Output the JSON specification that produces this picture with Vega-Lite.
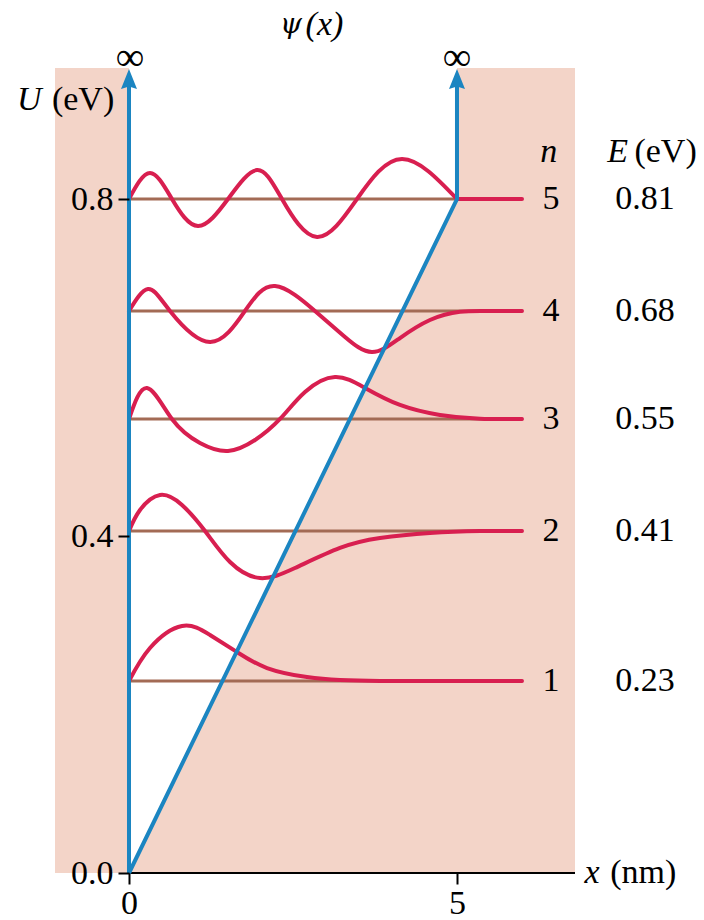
{
  "$schema": "https://vega.github.io/schema/vega-lite/v6.json",
  "width": 520,
  "height": 805,
  "autosize": {"type": "none"},
  "padding": {"left": 55, "top": 68, "right": 129, "bottom": 47},
  "background": "white",
  "config": {"view": {"stroke": null}, "axis": {"grid": false}},
  "datasets": {
    "bg": [{"x0": -1.128, "x1": 6.799, "y0": 0, "y1": 0.9555}],
    "well": [{"x": 0, "lo": 0, "hi": 0.9555}, {"x": 5, "lo": 0.8, "hi": 0.9555}],
    "axisline": [{"xa": 0, "xb": 6.799, "y": 0}],
    "levels": [
      {"n": 1, "E": 0.2279, "xs": 0, "xe": 6},
      {"n": 2, "E": 0.4059, "xs": 0, "xe": 6},
      {"n": 3, "E": 0.5389, "xs": 0, "xe": 6},
      {"n": 4, "E": 0.6671, "xs": 0, "xe": 6},
      {"n": 5, "E": 0.8, "xs": 0, "xe": 5}
    ],
    "waves": [
      {"s": "1", "x": 0, "y": 0.2279}, {"s": "1", "x": 0.32, "y": 0.2671}, {"s": "1", "x": 0.808, "y": 0.2932},
      {"s": "1", "x": 1.235, "y": 0.2825}, {"s": "1", "x": 1.646, "y": 0.2623}, {"s": "1", "x": 2.104, "y": 0.2433},
      {"s": "1", "x": 2.713, "y": 0.2326}, {"s": "1", "x": 3.216, "y": 0.2291}, {"s": "1", "x": 3.826, "y": 0.2280},
      {"s": "1", "x": 4.9, "y": 0.2279}, {"s": "1", "x": 5.991, "y": 0.2279},
      {"s": "2", "x": 0, "y": 0.4059}, {"s": "2", "x": 0.168, "y": 0.4309}, {"s": "2", "x": 0.473, "y": 0.4487},
      {"s": "2", "x": 0.808, "y": 0.4368}, {"s": "2", "x": 1.159, "y": 0.4059}, {"s": "2", "x": 1.54, "y": 0.3691},
      {"s": "2", "x": 1.997, "y": 0.3501}, {"s": "2", "x": 2.53, "y": 0.362}, {"s": "2", "x": 3.216, "y": 0.3858},
      {"s": "2", "x": 3.826, "y": 0.3976}, {"s": "2", "x": 4.588, "y": 0.4036}, {"s": "2", "x": 5.351, "y": 0.4058},
      {"s": "2", "x": 5.991, "y": 0.4059},
      {"s": "3", "x": 0, "y": 0.5389}, {"s": "3", "x": 0.275, "y": 0.5757}, {"s": "3", "x": 0.655, "y": 0.5389},
      {"s": "3", "x": 1.082, "y": 0.5104}, {"s": "3", "x": 1.509, "y": 0.5009}, {"s": "3", "x": 1.921, "y": 0.5139},
      {"s": "3", "x": 2.302, "y": 0.5389}, {"s": "3", "x": 2.683, "y": 0.5709}, {"s": "3", "x": 3.14, "y": 0.5887},
      {"s": "3", "x": 3.598, "y": 0.5757}, {"s": "3", "x": 4.131, "y": 0.5555}, {"s": "3", "x": 4.741, "y": 0.5436},
      {"s": "3", "x": 5.351, "y": 0.5391}, {"s": "3", "x": 5.991, "y": 0.5389},
      {"s": "4", "x": 0, "y": 0.6671}, {"s": "4", "x": 0.29, "y": 0.6932}, {"s": "4", "x": 0.625, "y": 0.6671},
      {"s": "4", "x": 1.235, "y": 0.6303}, {"s": "4", "x": 1.768, "y": 0.6671}, {"s": "4", "x": 2.226, "y": 0.6967},
      {"s": "4", "x": 2.835, "y": 0.6671}, {"s": "4", "x": 3.293, "y": 0.6362}, {"s": "4", "x": 3.704, "y": 0.6184},
      {"s": "4", "x": 4.131, "y": 0.635}, {"s": "4", "x": 4.588, "y": 0.6564}, {"s": "4", "x": 5.046, "y": 0.6662},
      {"s": "4", "x": 5.5, "y": 0.6671}, {"s": "4", "x": 5.991, "y": 0.6671},
      {"s": "5", "x": 0, "y": 0.8}, {"s": "5", "x": 0.32, "y": 0.8309}, {"s": "5", "x": 0.655, "y": 0.8},
      {"s": "5", "x": 1.052, "y": 0.768}, {"s": "5", "x": 1.509, "y": 0.8}, {"s": "5", "x": 1.951, "y": 0.8344},
      {"s": "5", "x": 2.332, "y": 0.8}, {"s": "5", "x": 2.866, "y": 0.7549}, {"s": "5", "x": 3.476, "y": 0.8},
      {"s": "5", "x": 4.162, "y": 0.8475}, {"s": "5", "x": 5.0, "y": 0.8},
      {"s": "5t", "x": 5.0, "y": 0.8}, {"s": "5t", "x": 5.991, "y": 0.8}
    ],
    "walls": [
      {"o": 1, "x": 0, "y": 0.9377}, {"o": 2, "x": 0, "y": 0}, {"o": 3, "x": 5, "y": 0.8}, {"o": 4, "x": 5, "y": 0.9377}
    ],
    "arrows": [{"x": 0, "y": 0.9424}, {"x": 5, "y": 0.9424}],
    "regular": [
      {"x": -0.7, "y": 0.9175, "t": "(eV)"},
      {"x": 7.84, "y": 0.0, "t": "(nm)"},
      {"x": 8.18, "y": 0.8558, "t": "(eV)"},
      {"x": 6.433, "y": 0.8, "t": "5"},
      {"x": 6.433, "y": 0.6671, "t": "4"},
      {"x": 6.433, "y": 0.5389, "t": "3"},
      {"x": 6.433, "y": 0.4059, "t": "2"},
      {"x": 6.433, "y": 0.2279, "t": "1"},
      {"x": 7.866, "y": 0.8, "t": "0.81"},
      {"x": 7.866, "y": 0.6671, "t": "0.68"},
      {"x": 7.866, "y": 0.5389, "t": "0.55"},
      {"x": 7.866, "y": 0.4059, "t": "0.41"},
      {"x": 7.866, "y": 0.2279, "t": "0.23"}
    ],
    "infinity": [
      {"x": 0.015, "y": 0.9674, "t": "∞"},
      {"x": 5.0, "y": 0.9674, "t": "∞"}
    ],
    "psi": [{"x": 2.47, "y": 1.0065, "t": "ψ"}],
    "italic": [
      {"x": -1.52, "y": 0.9175, "t": "U"},
      {"x": 7.06, "y": 0.0, "t": "x"},
      {"x": 6.4, "y": 0.8558, "t": "n"},
      {"x": 7.45, "y": 0.8558, "t": "E"},
      {"x": 2.98, "y": 1.0065, "t": "(x)"}
    ]
  },
  "layer": [
    {
      "data": {"name": "bg"},
      "mark": {"type": "rect", "color": "#f3d4c8"},
      "encoding": {
        "x": {"field": "x0", "type": "quantitative", "scale": {"domain": [-1.128, 6.799], "nice": false, "zero": false},
          "axis": {"values": [0, 5], "title": null, "domain": false, "zindex": 1, "tickColor": "black", "tickSize": 11, "tickWidth": 2,
            "labelFont": "Liberation Serif", "labelFontSize": 34, "labelColor": "black", "labelPadding": 2, "format": "d"}},
        "x2": {"field": "x1"},
        "y": {"field": "y0", "type": "quantitative", "scale": {"domain": [0, 0.9555], "nice": false},
          "axis": {"values": [0, 0.4, 0.8], "format": ".1f", "title": null, "domain": false, "zindex": 1, "offset": -74, "tickColor": "black",
            "tickSize": 11, "tickWidth": 2, "labelFont": "Liberation Serif", "labelFontSize": 34, "labelColor": "black", "labelPadding": 5}},
        "y2": {"field": "y1"}
      }
    },
    {
      "data": {"name": "well"},
      "mark": {"type": "area", "color": "white", "opacity": 1},
      "encoding": {
        "x": {"field": "x", "type": "quantitative"},
        "y": {"field": "lo", "type": "quantitative"},
        "y2": {"field": "hi"}
      }
    },
    {
      "data": {"name": "axisline"},
      "mark": {"type": "rule", "color": "black", "strokeWidth": 2},
      "encoding": {
        "x": {"field": "xa", "type": "quantitative"},
        "x2": {"field": "xb"},
        "y": {"field": "y", "type": "quantitative"}
      }
    },
    {
      "data": {"name": "levels"},
      "mark": {"type": "rule", "color": "#a36b55", "strokeWidth": 3},
      "encoding": {
        "x": {"field": "xs", "type": "quantitative"},
        "x2": {"field": "xe"},
        "y": {"field": "E", "type": "quantitative"}
      }
    },
    {
      "data": {"name": "waves"},
      "mark": {"type": "line", "color": "#d81f50", "strokeWidth": 4, "interpolate": "natural", "strokeCap": "round"},
      "encoding": {
        "x": {"field": "x", "type": "quantitative"},
        "y": {"field": "y", "type": "quantitative"},
        "detail": {"field": "s", "type": "nominal"}
      }
    },
    {
      "data": {"name": "walls"},
      "mark": {"type": "line", "color": "#1b85c1", "strokeWidth": 4, "strokeJoin": "miter"},
      "encoding": {
        "x": {"field": "x", "type": "quantitative"},
        "y": {"field": "y", "type": "quantitative"},
        "order": {"field": "o", "type": "quantitative"}
      }
    },
    {
      "data": {"name": "arrows"},
      "mark": {"type": "point", "shape": "M0,-1L-0.8,1L0,0.75L0.8,1Z", "filled": true, "color": "#1b85c1", "opacity": 1, "size": 400},
      "encoding": {
        "x": {"field": "x", "type": "quantitative"},
        "y": {"field": "y", "type": "quantitative"}
      }
    },
    {
      "data": {"name": "regular"},
      "mark": {"type": "text", "font": "Liberation Serif", "fontSize": 34, "color": "black", "align": "center", "baseline": "middle"},
      "encoding": {
        "x": {"field": "x", "type": "quantitative"},
        "y": {"field": "y", "type": "quantitative"},
        "text": {"field": "t", "type": "nominal"}
      }
    },
    {
      "data": {"name": "infinity"},
      "mark": {"type": "text", "font": "Liberation Serif", "fontSize": 40, "color": "black", "align": "center", "baseline": "middle"},
      "encoding": {
        "x": {"field": "x", "type": "quantitative"},
        "y": {"field": "y", "type": "quantitative"},
        "text": {"field": "t", "type": "nominal"}
      }
    },
    {
      "data": {"name": "psi"},
      "mark": {"type": "text", "font": "DejaVu Serif", "fontStyle": "italic", "fontSize": 28, "color": "black", "align": "center", "baseline": "middle"},
      "encoding": {
        "x": {"field": "x", "type": "quantitative"},
        "y": {"field": "y", "type": "quantitative"},
        "text": {"field": "t", "type": "nominal"}
      }
    },
    {
      "data": {"name": "italic"},
      "mark": {"type": "text", "font": "Liberation Serif", "fontStyle": "italic", "fontSize": 34, "color": "black", "align": "center", "baseline": "middle"},
      "encoding": {
        "x": {"field": "x", "type": "quantitative"},
        "y": {"field": "y", "type": "quantitative"},
        "text": {"field": "t", "type": "nominal"}
      }
    }
  ]
}
